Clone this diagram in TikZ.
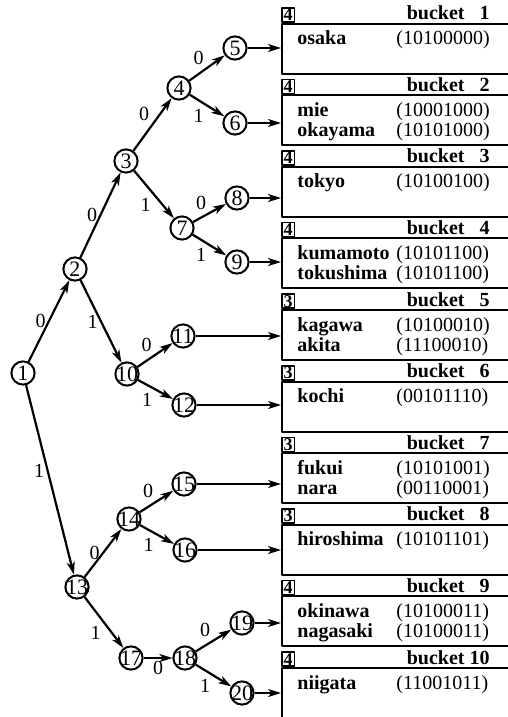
\documentclass[tikz,border=0pt]{standalone}
\usepackage{fontspec}
\setmainfont{Liberation Serif}
\usetikzlibrary{arrows.meta}

\begin{document}
\begin{tikzpicture}[x=0.5pt,y=-0.5pt,join=round,
    >={Stealth[length=6.5pt,width=4pt,inset=1.8pt]}]
    \tikzstyle{vertex} = [circle,draw,line width=1pt,minimum size=11.6pt,inner sep=0pt,
                          font=\fontsize{11}{11}\selectfont,
                          execute at begin node={\hbox to 0pt\bgroup\hss},
                          execute at end node={\hss\egroup}]
    \tikzstyle{edge} = [->,line width=1.1pt]
    \tikzstyle{feed} = [->,line width=0.9pt]
    \tikzstyle{bit} = [font=\fontsize{10}{10}\selectfont,inner sep=1.2pt]
    \tikzstyle{bucket} = [draw,line width=1pt,anchor=north west,inner sep=0pt,
                          minimum width=125pt,minimum height=25pt]
    \tikzstyle{depth} = [draw,line width=0.8pt,anchor=south west,inner sep=0pt,
                         minimum width=6.4pt,minimum height=7pt,
                         font=\bfseries\fontsize{9}{9}\selectfont]
    \tikzstyle{head} = [anchor=base east,inner sep=0pt,font=\bfseries\fontsize{10}{10}\selectfont]
    \tikzstyle{key} = [anchor=base west,inner sep=0pt,font=\bfseries\fontsize{10}{10}\selectfont]
    \tikzstyle{code} = [anchor=base west,inner sep=0pt,font=\fontsize{10}{10}\selectfont]

    \path[use as bounding box,clip] (0,0) rectangle (508,717);

    % trie nodes
    \node[vertex] (n1) at (23,373) {1};
    \node[vertex] (n2) at (75,269) {2};
    \node[vertex] (n3) at (126,161) {3};
    \node[vertex] (n4) at (179,88) {4};
    \node[vertex] (n5) at (235,48) {5};
    \node[vertex] (n6) at (235,123) {6};
    \node[vertex] (n7) at (182,228) {7};
    \node[vertex] (n8) at (237,198) {8};
    \node[vertex] (n9) at (237,262) {9};
    \node[vertex] (n10) at (127,374) {10};
    \node[vertex] (n11) at (183,336) {11};
    \node[vertex] (n12) at (184,405) {12};
    \node[vertex] (n13) at (77,587) {13};
    \node[vertex] (n14) at (129,519) {14};
    \node[vertex] (n15) at (184,484) {15};
    \node[vertex] (n16) at (185,550) {16};
    \node[vertex] (n17) at (131,658) {17};
    \node[vertex] (n18) at (185,658) {18};
    \node[vertex] (n19) at (242,623) {19};
    \node[vertex] (n20) at (242,693) {20};

    % branches, labelled with the bit
    \draw[edge] (n1) -- node[bit,left] {0} (n2);
    \draw[edge] (n2) -- node[bit,left] {0} (n3);
    \draw[edge] (n3) -- node[bit,above left] {0} (n4);
    \draw[edge] (n4) -- node[bit,above left] {0} (n5);
    \draw[edge] (n4) -- node[bit,below left] {1} (n6);
    \draw[edge] (n3) -- node[bit,below left] {1} (n7);
    \draw[edge] (n7) -- node[bit,above left] {0} (n8);
    \draw[edge] (n7) -- node[bit,below left] {1} (n9);
    \draw[edge] (n2) -- node[bit,left] {1} (n10);
    \draw[edge] (n10) -- node[bit,above left] {0} (n11);
    \draw[edge] (n10) -- node[bit,below left] {1} (n12);
    \draw[edge] (n1) -- node[bit,left,pos=.45] {1} (n13);
    \draw[edge] (n13) -- node[bit,left] {0} (n14);
    \draw[edge] (n14) -- node[bit,above left] {0} (n15);
    \draw[edge] (n14) -- node[bit,below left] {1} (n16);
    \draw[edge] (n13) -- node[bit,below left] {1} (n17);
    \draw[edge] (n17) -- node[bit,below] {0} (n18);
    \draw[edge] (n18) -- node[bit,above left] {0} (n19);
    \draw[edge] (n18) -- node[bit,below left] {1} (n20);

    % buckets with their local depth
    \foreach \k/\d in {1/4,2/4,3/4,4/4,5/3,6/3,7/3,8/3,9/4,10/4} {
        \node[bucket] (b\k) at (281,{22.6+(\k-1)*71.6}) {};
        \node[depth] (d\k) at (b\k.north west) {\d};
        \node[head] (h\k) at ([shift={(209,-3)}]b\k.north west)
            {bucket \makebox[1em][r]{\k}};
    }

    % records: name and hashed key
    \foreach \k/\r/\nm/\cd in {1/0/osaka/10100000,
                               2/0/mie/10001000, 2/1/okayama/10101000,
                               3/0/tokyo/10100100,
                               4/0/kumamoto/10101100, 4/1/tokushima/10101100,
                               5/0/kagawa/10100010, 5/1/akita/11100010,
                               6/0/kochi/00101110,
                               7/0/fukui/10101001, 7/1/nara/00110001,
                               8/0/hiroshima/10101101,
                               9/0/okinawa/10100011, 9/1/nagasaki/10100011,
                               10/0/niigata/11001011} {
        \node[key] (k\k-\r) at ([shift={(16,{22+20*\r})}]b\k.north west) {\nm};
        \node[code] (c\k-\r) at ([shift={(115,{22+20*\r})}]b\k.north west) {(\cd)};
    }

    % leaves point into their buckets
    \draw[feed] (n5) -- (n5 -| b1.west);
    \draw[feed] (n6) -- (n6 -| b2.west);
    \draw[feed] (n8) -- (n8 -| b3.west);
    \draw[feed] (n9) -- (n9 -| b4.west);
    \draw[feed] (n11) -- (n11 -| b5.west);
    \draw[feed] (n12) -- (n12 -| b6.west);
    \draw[feed] (n15) -- (n15 -| b7.west);
    \draw[feed] (n16) -- (n16 -| b8.west);
    \draw[feed] (n19) -- (n19 -| b9.west);
    \draw[feed] (n20) -- (n20 -| b10.west);
\end{tikzpicture}
\end{document}
